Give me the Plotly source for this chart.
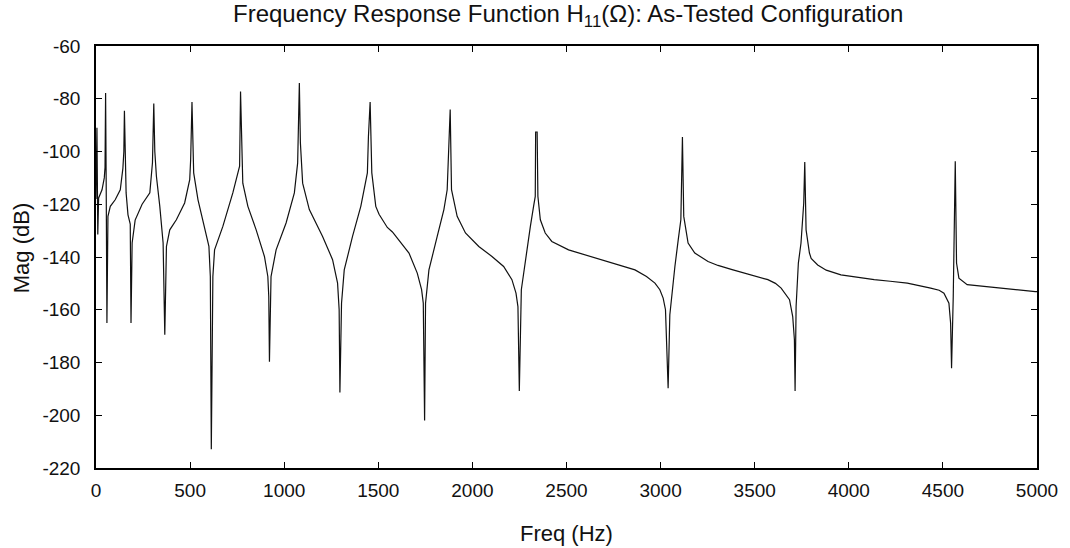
import plotly.graph_objects as go

freq_hz = [0, 5, 9.5, 14, 32, 44, 48, 51, 54, 58, 63.5, 76, 102, 129, 143, 148, 151, 155, 160, 170,
           182, 186, 192, 208, 245, 286, 300, 307, 312.5, 321, 339, 356.6, 365.5, 374.3, 392, 427,
           471, 498, 503, 510, 519, 542, 577, 600, 607.5, 612.7, 621, 630, 674, 727, 763, 768, 780,
           807, 851, 895, 913, 918, 921.6, 930, 957, 1010, 1054, 1071.5, 1080.5, 1086, 1098, 1133.5,
           1204, 1257, 1283.6, 1292, 1296, 1304.6, 1319, 1363, 1407, 1442, 1447.6, 1456.6, 1465.5,
           1486.6, 1504, 1521.8, 1548, 1575, 1663, 1707, 1730, 1739, 1746, 1751, 1769, 1813, 1848.5,
           1866, 1875, 1882, 1889, 1919, 1963, 2034, 2104, 2166, 2210, 2231.6, 2242, 2249.3, 2260,
           2281, 2308, 2325, 2334, 2336, 2344, 2348, 2361, 2387, 2422, 2511, 2599, 2687, 2775, 2864,
           2925, 2970, 2996, 3013.6, 3026, 3040, 3049, 3058, 3076, 3093.6, 3107.6, 3116, 3123, 3146,
           3181.6, 3252, 3305, 3380, 3446.5, 3510, 3570, 3610, 3640.5, 3685, 3702, 3711, 3714.6,
           3720, 3732, 3746, 3755, 3760.6, 3766, 3773, 3790.8, 3800, 3834.7, 3880, 3958, 4050, 4135,
           4220, 4311, 4435, 4480, 4505.5, 4520, 4532, 4541, 4546, 4555, 4565.7, 4572.5, 4585, 4629,
           4717.6, 4805.7, 4894, 4991, 5000]

mag_db = [-118, -91, -131.5, -117.6, -114.5, -110, -106, -77.8, -110, -165, -124.6, -120.8, -118.3,
          -114.5, -106.3, -100, -84.6, -98, -115.7, -124, -127.5, -165, -134.7, -126, -120, -115.7,
          -104.3, -81.8, -100, -109.4, -120.8, -134.7, -169.5, -136, -129.7, -125.9, -119.5, -110.7,
          -103, -81.2, -108.1, -118.3, -128.4, -136, -147.4, -212.9, -147.4, -137.3, -128.4, -115.7,
          -105.6, -77.3, -112, -120.8, -129.7, -139.8, -147.4, -155, -179.7, -147.4, -137.3, -127.1,
          -115.7, -104.3, -74, -96.7, -112, -122, -132.2, -141, -149.9, -160, -191.4, -157.5, -144.9,
          -132.2, -120.8, -108.1, -94.2, -81.2, -108.1, -120.8, -123.8, -125.9, -128.8, -130.5,
          -138.5, -146.1, -152.4, -157.5, -202, -157.5, -144.9, -132.2, -122, -114.5, -100.5, -84.1,
          -114.5, -124.6, -130.9, -136, -139.8, -143.6, -148.6, -153.7, -158.8, -190.8, -152.4,
          -141, -128.4, -120.8, -117, -92.6, -92.6, -117, -125.9, -130.9, -134.1, -137.3, -139.2,
          -141, -143, -144.9, -147.4, -149.9, -152.4, -155.6, -160, -189.8, -162, -155, -143.6,
          -133.5, -125.9, -94.5, -124.6, -134.7, -138.5, -141.7, -143.2, -144.8, -146.1, -147.3,
          -148.6, -150, -151.8, -156.2, -162.6, -171.4, -190.8, -158.8, -142.3, -134.7, -127.1,
          -119.5, -104, -129.7, -138.5, -140.5, -143, -145, -146.8, -147.8, -148.6, -149.2, -149.9,
          -151.8, -152.6, -153.7, -155.5, -157.5, -165.1, -182.2, -155, -103.7, -142.3, -148, -150.5,
          -151.2, -151.8, -152.4, -153.1, -153.1]

x_ticks = [0, 500, 1000, 1500, 2000, 2500, 3000, 3500, 4000, 4500, 5000]
y_ticks = [-220, -200, -180, -160, -140, -120, -100, -80, -60]

FONT = "Liberation Sans, Arial, Helvetica, sans-serif"
INK = "#111111"

fig = go.Figure()
fig.add_trace(go.Scatter(x=freq_hz, y=mag_db, mode="lines",
                         line=dict(color=INK, width=1.2), showlegend=False,
                         hoverinfo="skip"))

axis_common = dict(showline=True, linecolor="black", linewidth=1.5, mirror="allticks",
                   ticks="inside", ticklen=6, tickcolor="black", tickwidth=1,
                   showgrid=False, zeroline=False,
                   tickfont=dict(family=FONT, size=19, color=INK))

fig.update_layout(
    width=1070, height=548,
    margin=dict(l=96, r=30, t=46, b=80),
    paper_bgcolor="white", plot_bgcolor="white",
    title=dict(text="Frequency Response Function H<sub>11</sub>(Ω): As-Tested Configuration",
               x=0.531, xanchor="center", xref="container",
               y=1 - 14 / 548, yanchor="middle", yref="container",
               font=dict(family=FONT, size=24, color=INK)),
    xaxis=dict(range=[0, 5000], tickvals=x_ticks, ticktext=[str(v) for v in x_ticks],
               ticklabelstandoff=4, **axis_common),
    yaxis=dict(range=[-220, -60], tickvals=y_ticks, ticktext=[str(v) for v in y_ticks],
               ticklabelstandoff=10, **axis_common),
)

# axis titles placed where the reference draws them
fig.add_annotation(text="Freq (Hz)", xref="paper", yref="paper", x=0.5,
                   y=-(533 - 468) / 422, xanchor="center", yanchor="middle",
                   showarrow=False, font=dict(family=FONT, size=22, color=INK))
fig.add_annotation(text="Mag (dB)", xref="paper", yref="paper",
                   x=-(96 - 22) / 944, y=(468 - 248) / 422, xanchor="center",
                   yanchor="middle", textangle=-90, showarrow=False,
                   font=dict(family=FONT, size=22, color=INK))

fig.write_html("out.html")
